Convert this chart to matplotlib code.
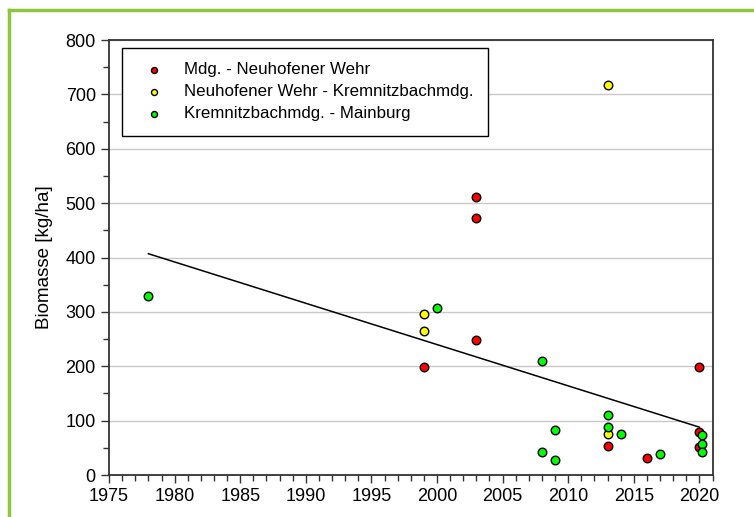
import matplotlib.pyplot as plt
from matplotlib.lines import Line2D

plt.rcParams['font.family'] = ['Liberation Sans', 'DejaVu Sans']
plt.rcParams['font.size'] = 12

# Mdg. - Neuhofener Wehr
red_years = [1999, 2003, 2003, 2003, 2013, 2016, 2020, 2020, 2020]
red_values = [198, 511, 473, 248, 54, 31, 199, 80, 51]

# Neuhofener Wehr - Kremnitzbachmdg.
yellow_years = [1999, 1999, 2013, 2013]
yellow_values = [296, 265, 717, 76]

# Kremnitzbachmdg. - Mainburg
green_years = [1978, 2000, 2008, 2008, 2009, 2009, 2013, 2013, 2014, 2017, 2020.2, 2020.2, 2020.2]
green_values = [330, 307, 210, 42, 83, 28, 111, 89, 75, 38, 74, 57, 43]

# trend line end points
trend_years = [1978, 2020]
trend_values = [407, 88]

labels = ['Mdg. - Neuhofener Wehr', 'Neuhofener Wehr - Kremnitzbachmdg.', 'Kremnitzbachmdg. - Mainburg']

fig = plt.figure(figsize=(7.54, 5.17), dpi=100)
ax = fig.add_axes([0.1446, 0.0812, 0.8004, 0.8414])

ax.plot(trend_years, trend_values, color='black', linewidth=1.1, zorder=2)
ax.scatter(red_years, red_values, s=38, color='#ff0000', edgecolors='black', linewidths=1, zorder=3, label=labels[0])
ax.scatter(yellow_years, yellow_values, s=38, color='#ffff00', edgecolors='black', linewidths=1, zorder=3, label=labels[1])
ax.scatter(green_years, green_values, s=38, color='#00ff00', edgecolors='black', linewidths=1, zorder=3, label=labels[2])

ax.set_xlim(1975, 2021)
ax.set_ylim(0, 800)
ax.set_xticks(range(1975, 2021, 5))
ax.set_xticks(range(1975, 2022, 1), minor=True)
ax.set_yticks(range(0, 801, 100))
ax.set_yticks(range(0, 801, 50), minor=True)
ax.tick_params(which='major', length=6, width=1, color='#333333', labelsize=13)
ax.tick_params(which='minor', length=4, width=1, color='#333333')
ax.tick_params(axis='y', which='both', right=False)
ax.tick_params(axis='x', which='both', top=False)
for sp in ax.spines.values():
    sp.set_color('#333333')
    sp.set_linewidth(1.3)

ax.grid(axis='y', which='major', color='#c8c8c8', linewidth=1)
ax.set_axisbelow(True)
ax.set_ylabel('Biomasse [kg/ha]', fontsize=13.5, labelpad=9)

leg = ax.legend(loc='upper left', bbox_to_anchor=(0.0215, 0.982), borderaxespad=0,
                fancybox=False, edgecolor='black', framealpha=1, markerscale=0.7,
                borderpad=0.85, labelspacing=0.42, handletextpad=0.7, handlelength=2.1,
                fontsize=12.2)
leg.get_frame().set_linewidth(1)

# green frame on top and left
border = '#8dc63f'
fig.add_artist(Line2D([0.0125, 1.0], [0.981, 0.981], color=border, linewidth=2.5, transform=fig.transFigure))
fig.add_artist(Line2D([0.0125, 0.0125], [0.0, 0.981], color=border, linewidth=2.5, transform=fig.transFigure))

fig.savefig('out.png', dpi=100)
